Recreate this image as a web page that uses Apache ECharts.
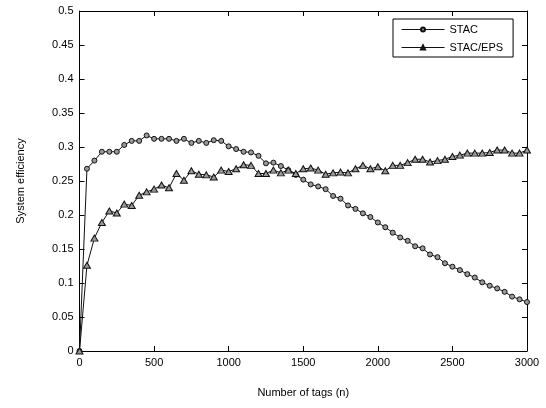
<!DOCTYPE html>
<html>
<head>
<meta charset="utf-8">
<script src="https://cdn.jsdelivr.net/npm/echarts@6/dist/echarts.min.js"></script>
<style>
  html, body { margin: 0; padding: 0; background: #fff; }
  #main { width: 546px; height: 408px; }
</style>
</head>
<body>
<div id="main"></div>
<script>
// number of tags (x positions of the samples)
const tags = [0, 50, 100, 150, 200, 250, 300, 350, 400, 450, 500, 550, 600, 650, 700, 750, 800, 850, 900, 950,
  1000, 1050, 1100, 1150, 1200, 1250, 1300, 1350, 1400, 1450, 1500, 1550, 1600, 1650, 1700, 1750, 1800, 1850, 1900, 1950,
  2000, 2050, 2100, 2150, 2200, 2250, 2300, 2350, 2400, 2450, 2500, 2550, 2600, 2650, 2700, 2750, 2800, 2850, 2900, 2950, 3000];

const stac = [0, 0.268, 0.280, 0.293, 0.293, 0.293, 0.303, 0.309, 0.309, 0.317, 0.312, 0.312, 0.312, 0.309, 0.312, 0.306, 0.309, 0.306, 0.310, 0.309,
  0.301, 0.297, 0.293, 0.292, 0.287, 0.276, 0.277, 0.272, 0.266, 0.259, 0.252, 0.245, 0.242, 0.238, 0.228, 0.224, 0.214, 0.209, 0.2025, 0.197,
  0.189, 0.182, 0.174, 0.167, 0.162, 0.154, 0.151, 0.142, 0.138, 0.129, 0.124, 0.119, 0.113, 0.108, 0.101, 0.096, 0.092, 0.087, 0.080, 0.076, 0.072];

const stacEps = [0, 0.126, 0.166, 0.189, 0.206, 0.203, 0.216, 0.214, 0.229, 0.234, 0.238, 0.244, 0.240, 0.261, 0.251, 0.265, 0.260, 0.259, 0.256, 0.266,
  0.264, 0.268, 0.274, 0.273, 0.261, 0.261, 0.266, 0.262, 0.266, 0.261, 0.268, 0.269, 0.266, 0.260, 0.262, 0.263, 0.262, 0.268, 0.273, 0.268,
  0.271, 0.265, 0.273, 0.273, 0.277, 0.282, 0.282, 0.278, 0.280, 0.282, 0.286, 0.288, 0.291, 0.291, 0.291, 0.292, 0.2955, 0.2955, 0.291, 0.291, 0.2955];

const seriesNames = ['STAC', 'STAC/EPS'];

const myChart = echarts.init(document.getElementById('main'));
const font = 'Liberation Sans, Arial, sans-serif';

function pairs(ys) {
  return tags.map((t, i) => [t, ys[i]]);
}

const axisLine = { show: true, onZero: false, lineStyle: { color: '#000', width: 1 } };
const tick = { show: true, inside: true, length: 5, lineStyle: { color: '#000' } };

const option = {
  backgroundColor: '#fff',
  animation: false,
  grid: { left: 79.5, right: 19, top: 11, bottom: 57 },
  legend: {
    data: seriesNames,
    orient: 'vertical',
    left: 393,
    top: 19,
    padding: [5, 10, 4, 8],
    itemGap: 7,
    itemWidth: 43,
    itemHeight: 5,
    borderColor: '#000',
    borderWidth: 1,
    backgroundColor: '#fff',
    lineStyle: { width: 1 },
    textStyle: { fontFamily: font, fontSize: 11, color: '#000' }
  },
  xAxis: [{
    type: 'value',
    min: 0, max: 3000, interval: 500,
    name: 'Number of tags (n)',
    nameLocation: 'middle',
    nameGap: 36,
    nameTextStyle: { fontFamily: font, fontSize: 11, color: '#000' },
    axisLine: axisLine,
    axisTick: tick,
    axisLabel: { fontFamily: font, fontSize: 11, color: '#000', margin: 6, formatter: v => String(v) },
    splitLine: { show: false }
  }, {
    type: 'value',
    position: 'top',
    min: 0, max: 3000, interval: 500,
    axisLine: axisLine,
    axisTick: tick,
    axisLabel: { show: false },
    splitLine: { show: false }
  }],
  yAxis: [{
    type: 'value',
    min: 0, max: 0.5, interval: 0.05,
    name: 'System efficiency',
    nameLocation: 'middle',
    nameGap: 53,
    nameTextStyle: { fontFamily: font, fontSize: 11, color: '#000' },
    axisLine: axisLine,
    axisTick: tick,
    axisLabel: {
      fontFamily: font, fontSize: 11, color: '#000', margin: 6,
      formatter: v => String(+v.toFixed(2))
    },
    splitLine: { show: false }
  }, {
    type: 'value',
    position: 'right',
    min: 0, max: 0.5, interval: 0.05,
    axisLine: axisLine,
    axisTick: tick,
    axisLabel: { show: false },
    splitLine: { show: false }
  }],
  series: [{
    name: seriesNames[0],
    type: 'line',
    data: pairs(stac),
    symbol: 'circle',
    symbolSize: 5,
    lineStyle: { color: '#111', width: 1 },
    itemStyle: { color: '#999', borderColor: '#111', borderWidth: 1 }
  }, {
    name: seriesNames[1],
    type: 'line',
    data: pairs(stacEps),
    symbol: 'triangle',
    symbolSize: [7, 6],
    lineStyle: { color: '#111', width: 1 },
    itemStyle: { color: '#999', borderColor: '#111', borderWidth: 1 }
  }]
};

myChart.setOption(option);
</script>
</body>
</html>
